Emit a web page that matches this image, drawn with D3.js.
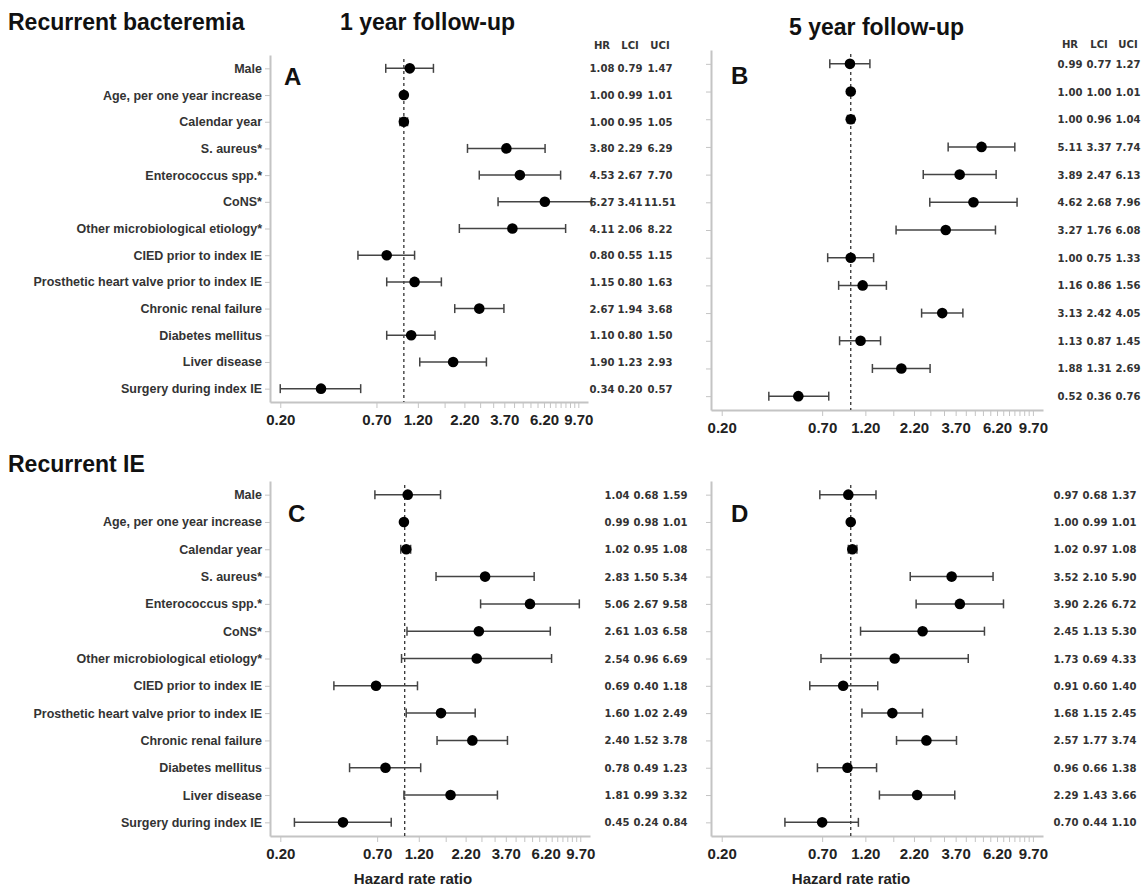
<!DOCTYPE html>
<html>
<head>
<meta charset="utf-8">
<script src="https://cdn.jsdelivr.net/npm/d3@7"></script>
<style>
  body { margin: 0; background: #fff; }
  svg text { font-family: "Liberation Sans", Arial, sans-serif; }
  .title { font-size: 23px; font-weight: bold; fill: #111; }
  .letter { font-size: 24px; font-weight: bold; fill: #111; }
  .rowlab text { font-family: "Liberation Sans Narrow", "Arial Narrow", sans-serif; font-size: 12.5px; font-weight: bold; fill: #333; }
  .xaxis text { font-family: "Liberation Sans Narrow", "Arial Narrow", sans-serif; font-size: 15px; font-weight: bold; fill: #222; }
  .axis path, .axis line { stroke: #c4c4c4; }
  .axis path { stroke-width: 2; }
  .num { font-family: "DejaVu Sans Condensed", "DejaVu Sans", sans-serif; font-size: 11.2px; font-weight: bold; fill: #333; }
  .xtitle { font-family: "Liberation Sans Narrow", "Arial Narrow", sans-serif; font-size: 15px; font-weight: bold; fill: #222; }
</style>
</head>
<body>
<script>
// factors (same order in every panel)
const factors = [
  "Male", "Age, per one year increase", "Calendar year", "S. aureus*",
  "Enterococcus spp.*", "CoNS*", "Other microbiological etiology*",
  "CIED prior to index IE", "Prosthetic heart valve prior to index IE",
  "Chronic renal failure", "Diabetes mellitus", "Liver disease",
  "Surgery during index IE"
];

// A: recurrent bacteremia, 1 year
const bact1HR  = [1.08, 1.00, 1.00, 3.80, 4.53, 6.27, 4.11, 0.80, 1.15, 2.67, 1.10, 1.90, 0.34];
const bact1LCI = [0.79, 0.99, 0.95, 2.29, 2.67, 3.41, 2.06, 0.55, 0.80, 1.94, 0.80, 1.23, 0.20];
const bact1UCI = [1.47, 1.01, 1.05, 6.29, 7.70, 11.51, 8.22, 1.15, 1.63, 3.68, 1.50, 2.93, 0.57];

// B: recurrent bacteremia, 5 year
const bact5HR  = [0.99, 1.00, 1.00, 5.11, 3.89, 4.62, 3.27, 1.00, 1.16, 3.13, 1.13, 1.88, 0.52];
const bact5LCI = [0.77, 1.00, 0.96, 3.37, 2.47, 2.68, 1.76, 0.75, 0.86, 2.42, 0.87, 1.31, 0.36];
const bact5UCI = [1.27, 1.01, 1.04, 7.74, 6.13, 7.96, 6.08, 1.33, 1.56, 4.05, 1.45, 2.69, 0.76];

// C: recurrent IE, 1 year
const ie1HR  = [1.04, 0.99, 1.02, 2.83, 5.06, 2.61, 2.54, 0.69, 1.60, 2.40, 0.78, 1.81, 0.45];
const ie1LCI = [0.68, 0.98, 0.95, 1.50, 2.67, 1.03, 0.96, 0.40, 1.02, 1.52, 0.49, 0.99, 0.24];
const ie1UCI = [1.59, 1.01, 1.08, 5.34, 9.58, 6.58, 6.69, 1.18, 2.49, 3.78, 1.23, 3.32, 0.84];

// D: recurrent IE, 5 year
const ie5HR  = [0.97, 1.00, 1.02, 3.52, 3.90, 2.45, 1.73, 0.91, 1.68, 2.57, 0.96, 2.29, 0.70];
const ie5LCI = [0.68, 0.99, 0.97, 2.10, 2.26, 1.13, 0.69, 0.60, 1.15, 1.77, 0.66, 1.43, 0.44];
const ie5UCI = [1.37, 1.01, 1.08, 5.90, 6.72, 5.30, 4.33, 1.40, 2.45, 3.74, 1.38, 3.66, 1.10];

// x axis ticks (every 0.5) and the ones that get a label
const tickValues = [0.2, 0.7, 1.2, 1.7, 2.2, 2.7, 3.2, 3.7, 4.2, 4.7, 5.2, 5.7, 6.2, 6.7, 7.2, 7.7, 8.2, 8.7, 9.2, 9.7];
const tickLabels = [0.2, 0.7, 1.2, 2.2, 3.7, 6.2, 9.7];
const tableHeads = ["HR", "LCI", "UCI"];

const width = 1146, height = 889;

const svg = d3.select("body").append("svg")
  .attr("width", width)
  .attr("height", height);

// titles
svg.append("text").attr("class", "title").attr("x", 8).attr("y", 30).text("Recurrent bacteremia");
svg.append("text").attr("class", "title").attr("x", 340).attr("y", 30).text("1 year follow-up");
svg.append("text").attr("class", "title").attr("x", 789).attr("y", 35).text("5 year follow-up");
svg.append("text").attr("class", "title").attr("x", 8).attr("y", 472).text("Recurrent IE");

const panels = [
  { id: "A", hr: bact1HR, lci: bact1LCI, uci: bact1UCI, x0: 270, x1: 588, y0: 55, y1: 402,
    labels: true, cols: [602, 630, 660], headY: 49, lx: 284, ly: 85, tx: null },
  { id: "B", hr: bact5HR, lci: bact5LCI, uci: bact5UCI, x0: 711, x1: 1043, y0: 50, y1: 410,
    labels: false, cols: [1070, 1099, 1128], headY: 48, lx: 731, ly: 84, tx: null },
  { id: "C", hr: ie1HR, lci: ie1LCI, uci: ie1UCI, x0: 270, x1: 590, y0: 481, y1: 836,
    labels: true, cols: [617, 646, 675], headY: null, lx: 288, ly: 522, tx: 413 },
  { id: "D", hr: ie5HR, lci: ie5LCI, uci: ie5UCI, x0: 711, x1: 1043, y0: 481, y1: 836,
    labels: false, cols: [1066, 1095, 1124], headY: null, lx: 731, ly: 522, tx: 851 }
];

const fmt = d3.format(".2f");

panels.forEach(p => {
  const g = svg.append("g");
  const rows = factors.map((f, i) => ({ f, hr: p.hr[i], lci: p.lci[i], uci: p.uci[i] }));

  const x = d3.scaleLog().domain([0.175, 11]).range([p.x0, p.x1]);
  const y = d3.scalePoint().domain(factors).range([p.y0, p.y1]).padding(0.5);

  // y axis
  g.append("g")
    .attr("class", "axis rowlab")
    .attr("transform", `translate(${p.x0},0)`)
    .call(d3.axisLeft(y).tickSize(5).tickSizeOuter(0).tickPadding(3)
      .tickFormat(d => p.labels ? d : ""));

  // x axis
  g.append("g")
    .attr("class", "axis xaxis")
    .attr("transform", `translate(0,${p.y1})`)
    .call(d3.axisBottom(x).tickValues(tickValues).tickSize(6).tickSizeOuter(0).tickPadding(6)
      .tickFormat(d => tickLabels.includes(d) ? fmt(d) : ""));

  // reference line at HR = 1
  g.append("line")
    .attr("x1", x(1)).attr("x2", x(1))
    .attr("y1", p.y0 + 4).attr("y2", p.y1)
    .attr("stroke", "#333")
    .attr("stroke-width", 1.3)
    .attr("stroke-dasharray", "3,3");

  // confidence intervals
  g.selectAll(".ci").data(rows).enter().append("line")
    .attr("x1", d => x(d.lci)).attr("x2", d => x(d.uci))
    .attr("y1", d => y(d.f)).attr("y2", d => y(d.f))
    .attr("stroke", "#444").attr("stroke-width", 1.5);

  ["lci", "uci"].forEach(k => {
    g.selectAll(".cap-" + k).data(rows).enter().append("line")
      .attr("x1", d => x(d[k])).attr("x2", d => x(d[k]))
      .attr("y1", d => y(d.f) - 4.5).attr("y2", d => y(d.f) + 4.5)
      .attr("stroke", "#444").attr("stroke-width", 1.5);
  });

  // point estimates
  g.selectAll("circle").data(rows).enter().append("circle")
    .attr("cx", d => x(d.hr))
    .attr("cy", d => y(d.f))
    .attr("r", 5.3)
    .attr("fill", "#000");

  // panel letter
  g.append("text").attr("class", "letter").attr("x", p.lx).attr("y", p.ly).text(p.id);

  // HR / LCI / UCI table
  if (p.headY !== null) {
    g.selectAll(".head").data(tableHeads).enter().append("text")
      .attr("class", "num")
      .attr("x", (d, i) => p.cols[i])
      .attr("y", p.headY)
      .attr("text-anchor", "middle")
      .text(d => d);
  }
  ["hr", "lci", "uci"].forEach((k, i) => {
    g.selectAll(".t-" + k).data(rows).enter().append("text")
      .attr("class", "num")
      .attr("x", p.cols[i])
      .attr("y", d => y(d.f) + 4)
      .attr("text-anchor", "middle")
      .text(d => fmt(d[k]));
  });

  if (p.tx !== null) {
    g.append("text").attr("class", "xtitle")
      .attr("x", p.tx)
      .attr("y", 884)
      .attr("text-anchor", "middle")
      .text("Hazard rate ratio");
  }
});
</script>
</body>
</html>
